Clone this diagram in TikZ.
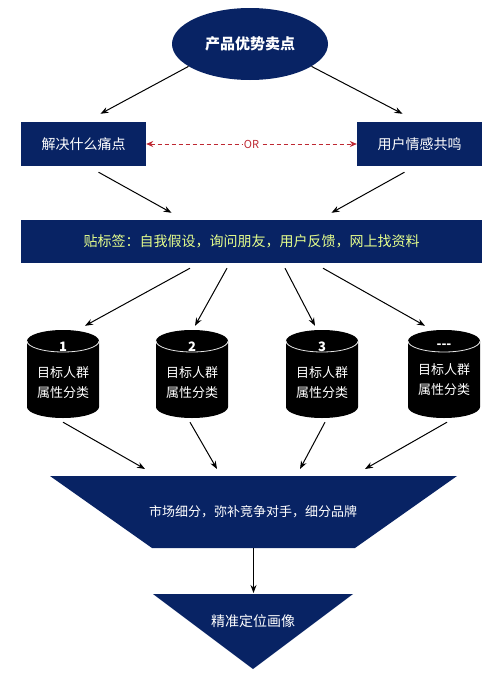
\documentclass[tikz,border=0pt]{standalone}
\usepackage{fontspec}
\setmainfont{Noto Sans CJK SC}
\usetikzlibrary{arrows.meta, shapes.geometric}
\definecolor{navy}{RGB}{8,35,100}
\definecolor{tagtext}{RGB}{230,255,140}
\definecolor{orred}{RGB}{190,40,50}
\tikzset{
	navybox/.style={rectangle, fill=navy, text=white, minimum width=125pt,
		minimum height=44pt, font=\fontsize{14}{16}\selectfont, inner sep=2pt},
	flowarr/.style={-{Stealth[length=8pt,width=6pt]}, line width=1pt, draw=black},
	orarr/.style={{Stealth[length=7pt,width=6pt]}-{Stealth[length=7pt,width=6pt]},
		line width=0.9pt, draw=orred, dash pattern=on 4pt off 3pt},
	cyltext/.style={rectangle, minimum width=72pt, minimum height=88pt,
		text=white, align=center, font=\fontsize{13}{20}\selectfont, inner sep=0pt},
	shapetext/.style={text=white, font=\fontsize{13}{16}\selectfont}
}

\begin{document}
\begin{tikzpicture}[x=1pt, y=-1pt]
	\useasboundingbox[fill=white] (0,0) rectangle (487,696);
	% top level
	\node[ellipse, fill=navy, text=white, minimum width=156pt, minimum height=72pt,
		font=\bfseries\fontsize{15}{18}\selectfont] (prod) at (250,44) {产品优势卖点};
	\node[navybox] (pain) at (83.5,144) {解决什么痛点};
	\node[navybox] (emo) at (419.5,144) {用户情感共鸣};
	\node[navybox, text=tagtext, minimum width=461pt, minimum height=43pt] (tag)
		at (251.5,241.5) {贴标签：自我假设，询问朋友，用户反馈，网上找资料};
	% cylinders
	\foreach \i/\x/\lbl in {1/63/1, 2/192/2, 3/322/3, 4/444/-{}-{}-}{
		\fill[black] (\x-36,341) -- (\x-36,407)
			arc[start angle=180, end angle=0, x radius=36, y radius=11] -- (\x+36,341)
			arc[start angle=0, end angle=-180, x radius=36, y radius=11] -- cycle;
		\draw[white!80!gray, line width=0.8pt] (\x-36,341)
			arc[start angle=180, end angle=0, x radius=36, y radius=11];
		\node[cyltext] (cyl\i) at (\x,370) {\textbf{\lbl}\\[6pt]目标人群\\属性分类};
	}
	% funnel
	\fill[navy] (50,476) -- (457,476) -- (355,548) -- (152,548) -- cycle;
	\node[shapetext] (seg) at (253,512) {市场细分，弥补竞争对手，细分品牌};
	\fill[navy] (153,594) -- (353,594) -- (253,669) -- cycle;
	\node[shapetext, font=\fontsize{14}{16}\selectfont] (aim) at (253,621) {精准定位画像};
	\coordinate (segtop) at (253.5,476);
	\coordinate (segbot) at (253.5,548);
	\coordinate (aimtop) at (253.5,594);
	% connectors
	\draw[flowarr] (prod.200) -- ([shift={(17,-8)}]pain.north);
	\draw[flowarr] (prod.340) -- ([shift={(-17,-8)}]emo.north);
	\draw[orarr] (pain.east) -- node[fill=white, text=orred, inner sep=1pt,
		font=\fontsize{11}{12}\selectfont] (or) {OR} (emo.west);
	\draw[flowarr] ([shift={(15,6)}]pain.south) -- ([shift={(-80,-7)}]tag.north);
	\draw[flowarr] ([shift={(-15,6)}]emo.south) -- ([shift={(80,-7)}]tag.north);
	\foreach \i/\sx/\ex in {1/-61.5/22, 2/-24.5/3, 3/33.5/-7, 4/71.5/-19}
		\draw[flowarr] ([shift={(\sx,5)}]tag.south) -- ([shift={(\ex,0)}]cyl\i.north);
	\foreach \i/\sx/\ex in {1/0/-108.5, 2/-2/-36.5, 3/3/46.5, 4/3/111.5}
		\draw[flowarr] ([shift={(\sx,8)}]cyl\i.south) -- ([shift={(\ex,-7)}]segtop);
	\draw[flowarr] (segbot) -- ([shift={(0,-1)}]aimtop);
\end{tikzpicture}
\end{document}
